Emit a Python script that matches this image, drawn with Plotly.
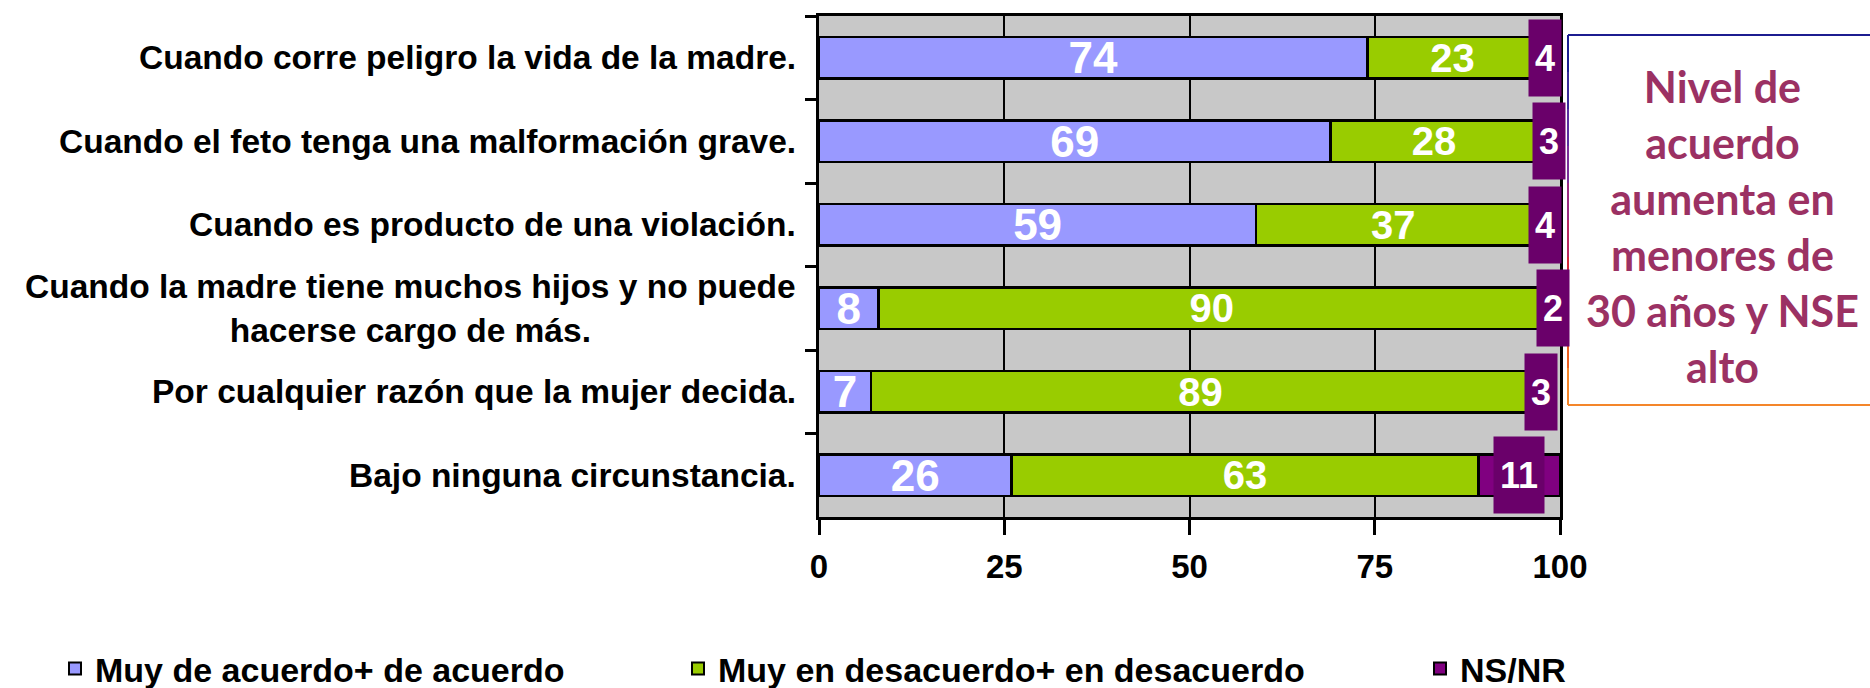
import plotly.graph_objects as go

categories = [
    "Cuando corre peligro la vida de la madre.",
    "Cuando el feto tenga una malformación grave.",
    "Cuando es producto de una violación.",
    "Cuando la madre tiene muchos hijos y no puede<br>hacerse cargo de más.",
    "Por cualquier razón que la mujer decida.",
    "Bajo ninguna circunstancia.",
]
acuerdo = [74, 69, 59, 8, 7, 26]
desacuerdo = [23, 28, 37, 90, 89, 63]
nsnr = [4, 3, 4, 2, 3, 11]
series_names = ["Muy de acuerdo+ de acuerdo", "Muy en desacuerdo+ en desacuerdo", "NS/NR"]
x_ticks = [0, 25, 50, 75, 100]
note_text = "Nivel de<br>acuerdo<br>aumenta en<br>menores de<br>30 años y NSE<br>alto"

W, H = 1870, 688
L, R, T, B = 819, 1560, 16, 517
FONT = "Liberation Sans, Arial, sans-serif"

def px_x(p):
    return (p - L) / (R - L)

def px_y(p):
    return (B - p) / (B - T)

colors = ["#9999FF", "#99CC00", "#800080"]

fig = go.Figure()
fig.add_trace(go.Bar(
    y=categories, x=acuerdo, orientation="h", name=series_names[0],
    marker=dict(color=colors[0], line=dict(color="black", width=2.5)),
    text=acuerdo, textposition="inside", insidetextanchor="middle",
    constraintext="none", textangle=0,
    textfont=dict(family=FONT, size=44, color="white", weight="bold"),
    legend="legend",
))
fig.add_trace(go.Bar(
    y=categories, x=desacuerdo, orientation="h", name=series_names[1],
    marker=dict(color=colors[1], line=dict(color="black", width=2.5)),
    text=desacuerdo, textposition="inside", insidetextanchor="middle",
    constraintext="none", textangle=0,
    textfont=dict(family=FONT, size=40, color="white", weight="bold"),
    legend="legend2",
))
fig.add_trace(go.Bar(
    y=categories, x=nsnr, orientation="h", name=series_names[2],
    marker=dict(color=colors[2], line=dict(color="black", width=2.5)),
    legend="legend3",
))

# NS/NR value boxes
for cat, a, d, n in zip(categories, acuerdo, desacuerdo, nsnr):
    start = min(a + d, 100 - n) if a + d + n > 100 else a + d
    fig.add_annotation(
        x=start + n / 2, y=cat, xref="x", yref="y",
        text=f"<b>{n}</b>", showarrow=False,
        font=dict(family=FONT, size=36, color="white"),
        bgcolor="#6A006A", width=14 + 18 * len(str(n)), height=76,
        borderpad=0,
    )

# category labels (centered multi-line, right-aligned block)
for cat in categories:
    fig.add_annotation(
        x=0, y=cat, xref="paper", yref="y", xanchor="right", xshift=-21,
        text=f"<b>{cat}</b>", showarrow=False, align="center",
        font=dict(family=FONT, size=33.5, color="black"),
    )

# note box on the right
fig.add_annotation(
    x=px_x(1722), y=px_y(226), xref="paper", yref="paper",
    text=f"<b>{note_text}</b>", showarrow=False, align="center",
    font=dict(family="Lato, Open Sans, sans-serif", size=43, color="#9B3163"),
    yanchor="middle", xanchor="center",
)
bx0, bx1, by0, by1 = 1568, 1885, 35, 405
fig.add_shape(type="line", xref="paper", yref="paper", x0=px_x(bx0), x1=px_x(bx1),
              y0=px_y(by0), y1=px_y(by0), line=dict(color="#1C1C90", width=2))
fig.add_shape(type="line", xref="paper", yref="paper", x0=px_x(bx0), x1=px_x(bx1),
              y0=px_y(by1), y1=px_y(by1), line=dict(color="#F4862A", width=2))
edge_cols = ["#1C1C90", "#3A2A98", "#5A2FA0", "#7A2F9A", "#9A2A80", "#B82860",
             "#D02838", "#E03A20", "#EC6020", "#F4862A"]
nseg = len(edge_cols)
for i, c in enumerate(edge_cols):
    ya = by0 + (by1 - by0) * i / nseg
    yb = by0 + (by1 - by0) * (i + 1) / nseg
    fig.add_shape(type="line", xref="paper", yref="paper", x0=px_x(bx0), x1=px_x(bx0),
                  y0=px_y(ya), y1=px_y(yb), line=dict(color=c, width=2))

leg_common = dict(orientation="h", yanchor="middle", y=px_y(669), xanchor="left",
                  font=dict(family=FONT, size=34, color="black", weight="bold"),
                  bgcolor="rgba(0,0,0,0)", itemsizing="constant")
fig.update_layout(
    width=W, height=H,
    margin=dict(l=L, r=W - R, t=T, b=H - B, pad=0, autoexpand=False),
    barmode="stack", bargap=0.5,
    paper_bgcolor="white", plot_bgcolor="#C8C8C8",
    showlegend=True,
    legend=dict(x=px_x(55), **leg_common),
    legend2=dict(x=px_x(678), **leg_common),
    legend3=dict(x=px_x(1420), **leg_common),
    xaxis=dict(
        range=[0, 100], tickvals=x_ticks, showgrid=True, gridcolor="black", gridwidth=2,
        showline=True, linecolor="black", linewidth=3, mirror=True,
        ticks="outside", ticklen=15, tickwidth=3, tickcolor="black",
        ticklabelstandoff=3, zeroline=False,
        tickfont=dict(family=FONT, size=33, color="black", weight="bold"),
    ),
    yaxis=dict(
        autorange="reversed", showticklabels=False, showgrid=False,
        showline=True, linecolor="black", linewidth=3, mirror=True,
        ticks="outside", ticklen=11, tickwidth=3, tickcolor="black",
        tickson="boundaries",
    ),
)
fig.write_html("out.html", config={"displayModeBar": False},
               post_script="document.body.style.margin='0';document.body.style.overflow='hidden';")
